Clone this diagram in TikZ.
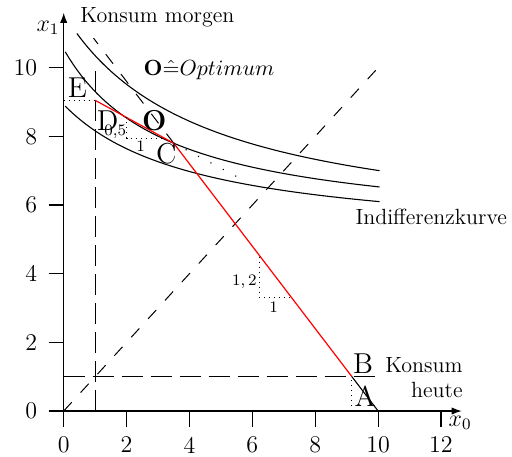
\documentclass[tikz,border=0pt]{standalone}
\usetikzlibrary{arrows.meta}
\begin{document}
\begin{tikzpicture}[x=15.72pt,y=17.165pt,
  every node/.style={inner sep=0pt},
  axis/.style={line width=0.55pt,-{Latex[length=5pt,width=3.6pt]}},
  tickmark/.style={line width=0.55pt},
  longdash/.style={line width=0.5pt,dash pattern=on 10.5pt off 4pt},
  middash/.style={line width=0.5pt,dash pattern=on 6pt off 6.5pt},
  curve/.style={line width=0.55pt},
  budget/.style={red,line width=0.6pt},
  dots/.style={line width=0.5pt,dotted},
  sparsedots/.style={line width=0.8pt,dash pattern=on 0.01pt off 7pt,line cap=round},
  ticklabel/.style={font=\fontsize{12}{14}\selectfont},
  txt/.style={font=\fontsize{11}{12.5}\selectfont},
  ptlabel/.style={font=\fontsize{14.4}{17}\selectfont},
  ptbold/.style={font=\fontsize{14.4}{17}\selectfont\bfseries},
  smalllabel/.style={font=\fontsize{8}{9.5}\selectfont}
]
\useasboundingbox (-31.85pt,-22.5pt) rectangle (224.15pt,205.5pt);

% key points
\coordinate (O0) at (0,0);
\coordinate (E) at (0,9.05);
\coordinate (D) at (1,9.05);
\coordinate (C) at (3.5,7.8);
\coordinate (B) at (9.1667,1);
\coordinate (Bf) at (9.1667,0);
\coordinate (A) at (10,0);
\coordinate (T) at (0.95,10.86);
\coordinate (P) at (5.5,6.83);
\coordinate (H0) at (0,1);
\coordinate (H1) at (10,1);
\coordinate (V0) at (1,0);
\coordinate (V1) at (1,10);
\coordinate (G1) at (10,10);
\coordinate (xs) at (-0.48,0);
\coordinate (xe) at (12.66,0);
\coordinate (ys) at (0,-0.47);
\coordinate (ye) at (0,11.6);

% axes and ticks
\draw[axis] (xs) -- (xe);
\draw[axis] (ys) -- (ye);
\foreach \v in {0,2,...,12} {
  \draw[tickmark] (\v,0) -- (\v,-0.47);
  \node[ticklabel] (xl\v) at (\v,-0.99) {\v};
}
\foreach \v in {0,2,...,10} {
  \draw[tickmark] (-0.48,\v) -- (0,\v);
  \node[ticklabel,anchor=east] (yl\v) at (-0.83,\v) {\v};
}
\node[ticklabel] (x1) at (-0.5,11.16) {$x_1$};
\node[ticklabel] (x0) at (12.61,-0.35) {$x_0$};
\node[txt,anchor=west] (km) at (0.52,11.48) {Konsum morgen};

% guide lines
\draw[longdash] (H0) -- (H1);
\draw[longdash] (V0) -- (V1);
\draw[middash] (O0) -- (G1);
\draw[middash] (C) -- (T);
\draw[sparsedots] (C) -- (P);
\draw[dots] (E) -- (D);
\draw[dots] (Bf) -- (B);

% indifference curves
\draw[curve] plot[domain=0.42:10.05,samples=80] (\x,{5+28.9/(\x+4.4)});
\draw[curve] plot[domain=0.05:10.05,samples=80] (\x,{5.2+17.73/(\x+3.32)});
\draw[curve] plot[domain=0.05:10.05,samples=80] (\x,{4.9+17.15/(\x+4.26)});

% budget line
\draw[budget] (D) -- (C) -- (B);
\draw[curve] (B) -- (A);

% slope triangles
\draw[dots] (2,8.55) -- (2,7.95) -- (3.15,7.95);
\node[smalllabel,anchor=east] (s05) at (2.0,8.13) {0,5};
\node[smalllabel,anchor=north] (s1a) at (2.45,7.88) {1};
\draw[dots] (6.22,4.5) -- (6.22,3.32) -- (7.22,3.32);
\node[smalllabel,anchor=base east] (s12) at (6.15,3.66) {$1,2$};
\node[smalllabel,anchor=north] (s1b) at (6.68,3.19) {1};

% labels
\node[txt,anchor=west] (opt) at (2.53,9.93) {$\mathbf{O}\hat{=}Optimum$};
\node[txt,anchor=east,align=right] (kh) at (12.7,0.98) {Konsum\\heute};
\node[txt,anchor=west] (ik) at (9.27,5.65) {Indifferenzkurve};
\node[ptlabel] (lE) at (0.44,9.42) {E};
\node[ptlabel] (lD) at (1.4,8.45) {D};
\node[ptbold] (lO) at (2.88,8.45) {O};
\node[ptlabel] (lC) at (3.26,7.49) {C};
\node[ptlabel] (lB) at (9.52,1.38) {B};
\node[ptlabel] (lA) at (9.59,0.42) {A};
\end{tikzpicture}
\end{document}
